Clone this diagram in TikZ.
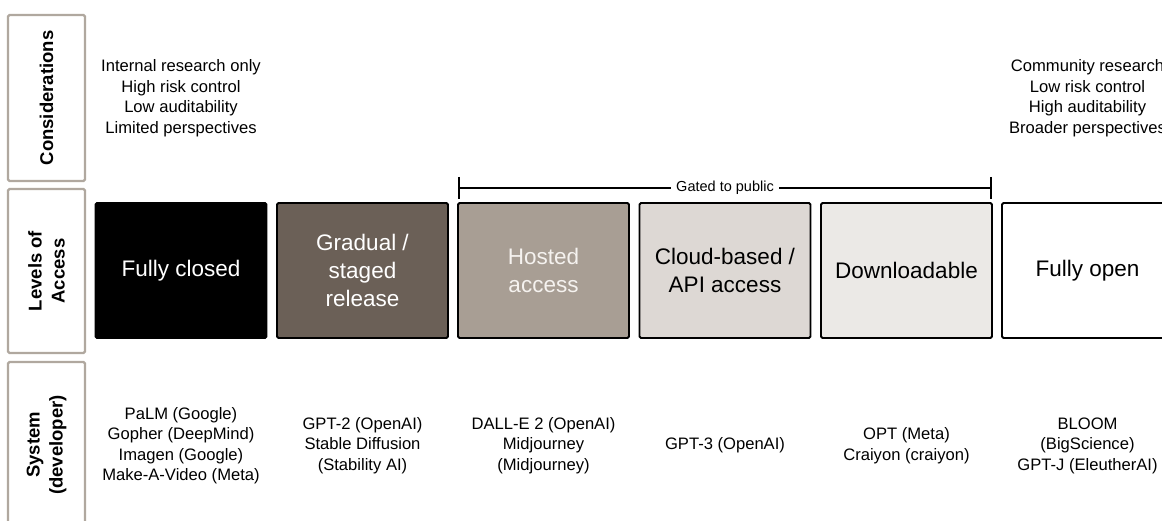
\documentclass[tikz,border=0pt]{standalone}
\usepackage{fontspec}
\setmainfont{Liberation Sans}
\definecolor{labelborder}{HTML}{B0A89F}
\definecolor{cgradual}{HTML}{6B6057}
\definecolor{chosted}{HTML}{A89E94}
\definecolor{ccloud}{HTML}{DDD8D4}
\definecolor{cdown}{HTML}{EBE9E6}
\definecolor{chostedtext}{HTML}{F5F2EF}
\begin{document}
\begin{tikzpicture}[x=1pt,y=-1pt,
  labelbox/.style={draw=labelborder,line width=2.2pt,rounded corners=1.5pt},
  labeltext/.style={rotate=90,align=center,font=\fontsize{18.5}{23}\selectfont\bfseries,inner sep=0pt},
  levelbox/.style={draw=black,line width=1.8pt,rounded corners=1.5pt,minimum width=171pt,minimum height=135pt,inner sep=0pt,align=center,font=\fontsize{22.5}{28}\selectfont},
  smalltext/.style={align=center,font=\fontsize{16.6}{20.5}\selectfont,inner sep=0pt},
  bracket/.style={line width=1.5pt}
]
\clip (0,0) rectangle (1162,521);
\fill[white] (0,0) rectangle (1162,521);

% left label boxes
\draw[labelbox] (8,15) rectangle (85,181);
\draw[labelbox] (8,189) rectangle (85,353);
\draw[labelbox] (8,362) rectangle (85,530);
\node[labeltext] (lcons) at (46.5,98) {Considerations};
\node[labeltext] (llev) at (46.5,271) {Levels of\\Access};
\node[labeltext] (lsys) at (46.5,445) {System\\(developer)};

% level boxes
\node[levelbox,fill=black,text=white] (closed) at (181,270.5) {Fully closed};
\node[levelbox,fill=cgradual,text=white] (gradual) at (362.5,270.5) {Gradual /\\staged\\release};
\node[levelbox,fill=chosted,text=chostedtext] (hosted) at (543.5,270.5) {Hosted\\access};
\node[levelbox,fill=ccloud,text=black] (cloud) at (725,270.5) {Cloud-based /\\API access};
\node[levelbox,fill=cdown,text=black] (down) at (906.5,270.5) {Downloadable};
\node[levelbox,fill=white,text=black] (open) at (1087.5,270.5) {Fully open};

% gated bracket
\coordinate (gl) at (459,188);
\coordinate (gr) at (991,188);
\coordinate (gltop) at (459,177);
\coordinate (glbot) at (459,199);
\coordinate (grtop) at (991,177);
\coordinate (grbot) at (991,199);
\draw[bracket] (gl) -- node[fill=white,inner xsep=5pt,inner ysep=1pt,font=\fontsize{14.5}{17}\selectfont] (gated) {Gated to public} (gr);
\draw[bracket] (gltop) -- (glbot);
\draw[bracket] (grtop) -- (grbot);

% considerations
\node[smalltext] (consl) at (181,98) {Internal research only\\High risk control\\Low auditability\\Limited perspectives};
\node[smalltext] (consr) at (1087.5,98) {Community research\\Low risk control\\High auditability\\Broader perspectives};

% systems
\node[smalltext] (s1) at (181,445.5) {PaLM (Google)\\Gopher (DeepMind)\\Imagen (Google)\\Make-A-Video (Meta)};
\node[smalltext] (s2) at (362.5,445.5) {GPT-2 (OpenAI)\\Stable Diffusion\\(Stability AI)};
\node[smalltext] (s3) at (543.5,445.5) {DALL-E 2 (OpenAI)\\Midjourney\\(Midjourney)};
\node[smalltext] (s4) at (725,445.5) {GPT-3 (OpenAI)};
\node[smalltext] (s5) at (906.5,445.5) {OPT (Meta)\\Craiyon (craiyon)};
\node[smalltext] (s6) at (1087.5,445.5) {BLOOM\\(BigScience)\\GPT-J (EleutherAI)};
\end{tikzpicture}
\end{document}
